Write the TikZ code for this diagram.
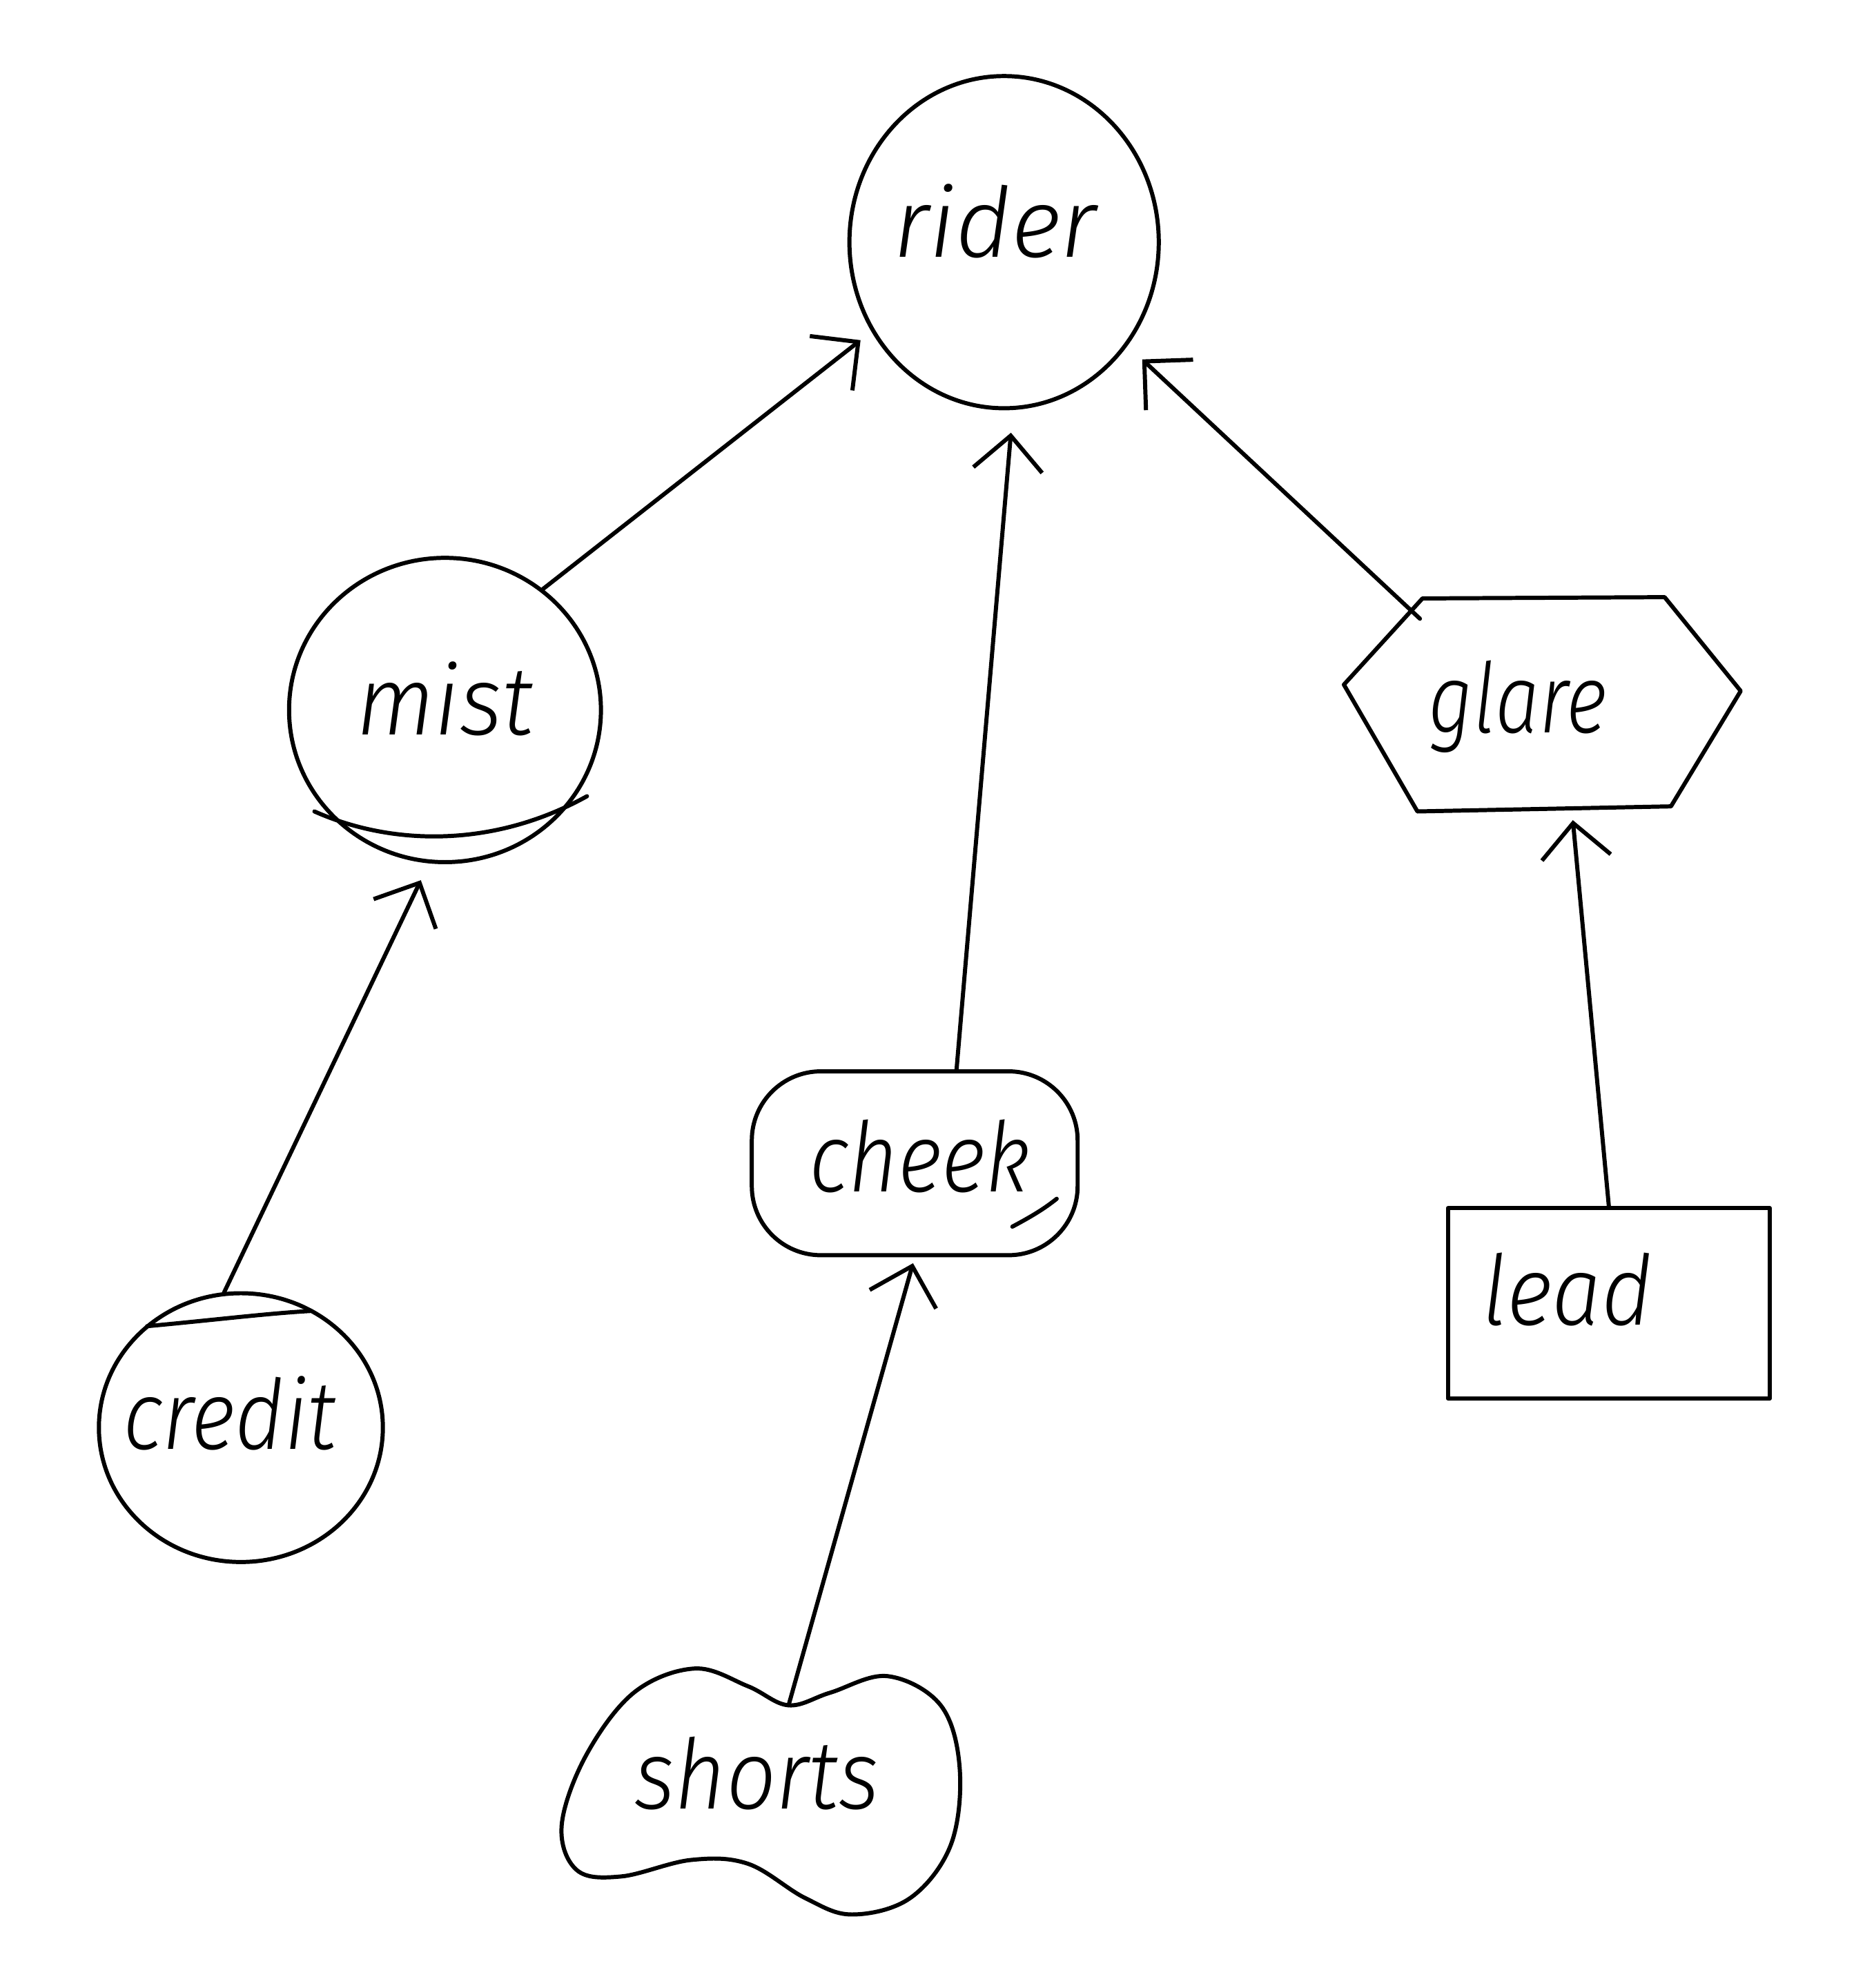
\documentclass[tikz,border=0pt]{standalone}
\usepackage{graphicx}
\usepackage{fontspec}
\setmainfont{Fira Sans}[ItalicFont={* Light Italic}]
\usetikzlibrary{shapes.geometric,arrows.meta}

% one drawing unit on the page
\newcommand\unitpx{0.01837cm}
% word set on the node centre: #1 sideways shift, #2 baseline raise, #3 width, #4 text
\newcommand\word[4]{\smash{\makebox[0pt]{\kern#1\raisebox{#2}{\resizebox{#3}{\height}{#4}}\kern-#1}}}

\begin{document}
\begin{tikzpicture}[x=0.01837cm, y=-0.01837cm,
  every node/.style={font=\fontsize{40}{48}\selectfont\itshape, inner sep=0pt},
  ink/.style={line width=1.7pt, line cap=round, line join=round},
  outline/.style={draw, ink},
  ghost/.style={draw=none},
  link/.style={ink, -{Straight Barb[length=0.5cm, width=1.0cm]}}]

\useasboundingbox (0,0) rectangle (1478,1568);

% ---- nodes ----
\node[ellipse, outline, minimum width=244*\unitpx, minimum height=262*\unitpx]
  (rider) at (792,191) {\word{-0.13cm}{-0.22cm}{2.94cm}{rider}};
\node[ellipse, outline, minimum width=246*\unitpx, minimum height=240*\unitpx]
  (mist) at (351,560) {\word{0cm}{-0.36cm}{2.57cm}{mist}};
\node[ellipse, outline, minimum width=224*\unitpx, minimum height=212*\unitpx]
  (credit) at (190,1126) {\word{-0.165cm}{-0.31cm}{3.09cm}{credit}};
\node[rectangle, outline, rounded corners=1cm, minimum width=257*\unitpx, minimum height=145*\unitpx]
  (cheek) at (721.5,917.5) {\word{0.07cm}{-0.41cm}{3.2cm}{cheek}};
\node[ellipse, ghost, minimum width=314*\unitpx, minimum height=194*\unitpx]
  (shorts) at (600,1412) {\word{-0.055cm}{-0.27cm}{3.55cm}{shorts}};
\node[rectangle, ghost, minimum width=313*\unitpx, minimum height=170*\unitpx]
  (glare) at (1216,555) {\word{-0.35cm}{-0.42cm}{2.59cm}{glare}};
\node[rectangle, outline, minimum width=254*\unitpx, minimum height=150*\unitpx]
  (lead) at (1269,1028) {\word{-0.6cm}{-0.31cm}{2.46cm}{lead}};

% ---- hand-drawn outlines and extra strokes ----
\begin{scope}[shift={(mist.center)}]
  \draw[ink] (-103,80) .. controls (-40,108) and (40,108) .. (112,68);
\end{scope}
\begin{scope}[shift={(credit.center)}]
  \draw[ink] (-74,-80) .. controls (-20,-85) and (20,-90) .. (55,-92);
\end{scope}
\begin{scope}[shift={(cheek.center)}]
  \draw[ink] (77,50) .. controls (92,42) and (102,36) .. (112,28);
\end{scope}
\begin{scope}[shift={(glare.center)}]
  \draw[ink] (-94,-83) -- (97,-84) -- (157,-10) -- (102,81) -- (-98,85) -- (-156,-15) -- cycle;
\end{scope}
\begin{scope}[shift={(shorts.center)}]
  \draw[ink] plot[smooth cycle, tension=0.6] coordinates {
    (22,-67) (-10,-82) (-52,-96) (-100,-77) (-138,-27) (-157,28) (-145,63)
    (-110,68) (-55,55) (-10,58) (35,85) (72,98) (118,85) (150,43)
    (157,-17) (142,-67) (100,-90) (55,-77)};
\end{scope}

% ---- connectors ----
\draw[link, shorten >=0.2cm] (mist.51) -- (rider.214);
\draw[link, shorten >=0.33cm] (cheek.66) -- (rider.-87);
\draw[link, shorten >=0.29cm] ([shift={(-96,-67)}]glare.center) -- (rider.-40);
\draw[link, shorten >=0.27cm] (credit.97) -- (mist.-96);
\draw[link, shorten >=0.09cm] ([shift={(22,-67)}]shorts.center) -- (cheek.south);
\draw[link, shorten >=0.12cm] (lead.north) -- ([xshift=24*\unitpx]glare.south);
\end{tikzpicture}
\end{document}
